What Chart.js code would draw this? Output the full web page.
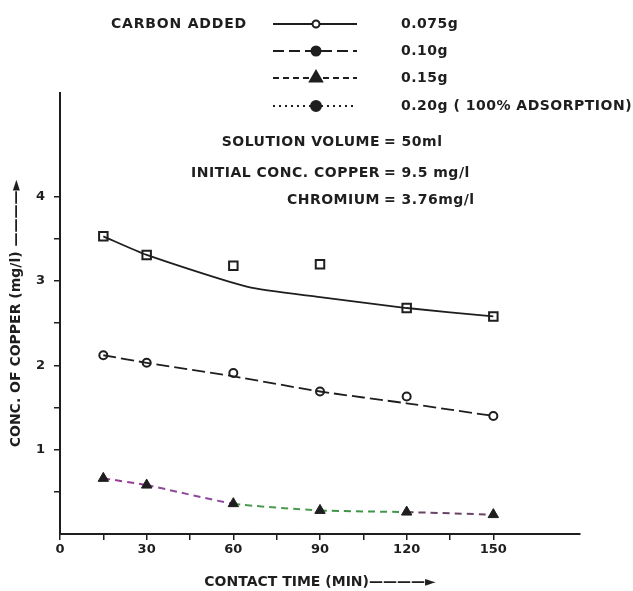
<!DOCTYPE html>
<html>
<head>
<meta charset="utf-8">
<script src="https://cdn.jsdelivr.net/npm/chart.js@4.4.7/dist/chart.umd.min.js"></script>
<style>
  html, body { margin: 0; padding: 0; background: #fff; }
  #wrap { width: 633px; height: 591px; position: relative; }
</style>
</head>
<body>
<div id="wrap"><canvas id="chart" width="633" height="591"></canvas></div>
<script>
// contact time (min) at which samples were taken
const TIMES = [15, 30, 60, 90, 120, 150];

// 0.075 g carbon: measured points and the hand-drawn curve through them
const CU_075_POINTS = [3.53, 3.31, 3.18, 3.20, 2.68, 2.58];
const CU_075_CURVE_TIMES = [15, 30, 65, 90, 120, 150];
const CU_075_CURVE = [3.53, 3.31, 2.93, 2.81, 2.68, 2.58];

// 0.10 g carbon
const CU_010_POINTS = [2.12, 2.03, 1.91, 1.69, 1.63, 1.40];
const CU_010_CURVE = [2.12, 2.03, 1.87, 1.69, 1.55, 1.40];

// 0.15 g carbon
const CU_015 = [0.66, 0.58, 0.36, 0.28, 0.26, 0.23];

// 0.20 g carbon (100% adsorption)
const CU_020 = [0, 0, 0, 0, 0, 0];

const X_TICKS = [0, 15, 30, 45, 60, 75, 90, 105, 120, 135, 150];
const Y_TICKS = [0.5, 1, 1.5, 2, 2.5, 3, 3.5, 4];

const CARBON_LABELS = ['0.075g', '0.10g', '0.15g', '0.20g ( 100% ADSORPTION)'];
const NOTES = [
  ['SOLUTION VOLUME', '= 50ml'],
  ['INITIAL CONC. COPPER', '= 9.5 mg/l'],
  ['CHROMIUM', '= 3.76mg/l'],
];

const INK = '#1e1e1e';
const FONT = 'DejaVu Sans';
const pts = (xs, ys) => xs.map((x, i) => ({ x, y: ys[i] }));

const datasets = [
  { data: pts(CU_075_CURVE_TIMES, CU_075_CURVE), borderColor: INK, borderWidth: 1.8, pointRadius: 0, tension: 0.2,
    legend: { label: CARBON_LABELS[0], dash: [], marker: { pointStyle: 'circle', radius: 3.5, fill: '#fff' } } },
  { data: pts(TIMES, CU_075_POINTS), showLine: false, pointStyle: 'rect', pointRadius: 6, pointBorderWidth: 2,
    pointBorderColor: INK, pointBackgroundColor: '#fff' },
  { data: pts(TIMES, CU_010_CURVE), borderColor: INK, borderWidth: 1.8, borderDash: [13, 5], pointRadius: 0, tension: 0.2,
    legend: { label: CARBON_LABELS[1], dash: [11, 5], marker: { pointStyle: 'circle', radius: 4.5, fill: INK } } },
  { data: pts(TIMES, CU_010_POINTS), showLine: false, pointStyle: 'circle', pointRadius: 4, pointBorderWidth: 2,
    pointBorderColor: INK, pointBackgroundColor: '#fff' },
  { data: pts(TIMES, CU_015), borderWidth: 2, borderDash: [7, 5], tension: 0.2,
    segment: { borderColor: (c) => ['#9a3c96', '#8d4a9a', '#4a9a50', '#3f9648', '#6a4468'][c.p0DataIndex] },
    pointStyle: 'triangle', pointRadius: 6, pointBackgroundColor: INK, pointBorderColor: INK, pointBorderWidth: 1,
    legend: { label: CARBON_LABELS[2], dash: [6, 4], marker: { pointStyle: 'triangle', radius: 7, fill: INK } } },
  { data: pts(TIMES, CU_020), borderColor: INK, borderWidth: 1.5, borderDash: [2, 4], pointRadius: 0,
    legend: { label: CARBON_LABELS[3], dash: [2, 4], marker: { pointStyle: 'circle', radius: 5, fill: INK } } },
];
datasets.forEach((d) => { d.clip = false; });

const notesPlugin = {
  id: 'notes',
  afterDraw(chart) {
    const ctx = chart.ctx;
    ctx.save();
    ctx.fillStyle = INK;
    ctx.strokeStyle = INK;
    ctx.textBaseline = 'middle';
    ctx.font = `bold 14px "${FONT}"`;
    ctx.letterSpacing = '0.8px';
    ctx.textAlign = 'left';
    ctx.fillText('CARBON ADDED', 111, 24);

    const rows = [24, 51, 78, 106];
    const items = chart.data.datasets.filter((d) => d.legend);
    items.forEach((d, i) => {
      const y = rows[i];
      ctx.lineWidth = 1.8;
      ctx.setLineDash(d.legend.dash);
      ctx.beginPath();
      ctx.moveTo(273, y);
      ctx.lineTo(357, y);
      ctx.stroke();
      ctx.setLineDash([]);
      ctx.fillStyle = d.legend.marker.fill;
      ctx.lineWidth = 2;
      Chart.helpers.drawPoint(ctx, { pointStyle: d.legend.marker.pointStyle, radius: d.legend.marker.radius, rotation: 0, borderWidth: 2 }, 316, y);
      ctx.fillStyle = INK;
      ctx.letterSpacing = '0.5px';
      ctx.fillText(d.legend.label, 401, y);
    });

    const noteRows = [142, 173, 200];
    NOTES.forEach(([left, right], i) => {
      ctx.textAlign = 'right';
      ctx.fillText(left, 380, noteRows[i]);
      ctx.textAlign = 'left';
      ctx.fillText(right, 384, noteRows[i]);
    });
    ctx.restore();
  },
};

new Chart(document.getElementById('chart'), {
  type: 'line',
  data: { datasets },
  plugins: [notesPlugin],
  options: {
    responsive: false,
    animation: false,
    layout: { padding: { top: 93, right: 53, left: 0, bottom: 0 } },
    plugins: { legend: { display: false }, tooltip: { enabled: false } },
    scales: {
      x: {
        type: 'linear', min: 0, max: 180,
        afterBuildTicks: (s) => { s.ticks = X_TICKS.map((value) => ({ value })); },
        afterFit: (s) => { s.height = 57; },
        ticks: { autoSkip: false, maxRotation: 0, padding: 2, color: INK,
          font: { family: FONT, size: 13, weight: 'bold' },
          callback: (v) => (v % 30 === 0 ? String(v) : '') },
        grid: { drawOnChartArea: false, drawTicks: true, tickLength: 6, color: INK, lineWidth: 1.5 },
        border: { display: true, color: INK, width: 2 },
        title: { display: true, text: 'CONTACT TIME (MIN)————►', color: INK, padding: { top: 7, bottom: 0 },
          font: { family: FONT, size: 14, weight: 'bold' } },
      },
      y: {
        type: 'linear', min: 0, max: 5.23,
        afterBuildTicks: (s) => { s.ticks = Y_TICKS.map((value) => ({ value })); },
        afterFit: (s) => { s.width = 60; },
        ticks: { autoSkip: false, padding: 9, color: INK,
          font: { family: FONT, size: 13, weight: 'bold' },
          callback: (v) => (Number.isInteger(v) ? String(v) : '') },
        grid: { drawOnChartArea: false, drawTicks: true, tickLength: 6, color: INK, lineWidth: 1.5 },
        border: { display: true, color: INK, width: 2 },
        title: { display: true, text: 'CONC. OF COPPER (mg/l) ————►', color: INK, padding: { top: 8, bottom: 0 },
          font: { family: FONT, size: 14, weight: 'bold' } },
      },
    },
  },
});
</script>
</body>
</html>
